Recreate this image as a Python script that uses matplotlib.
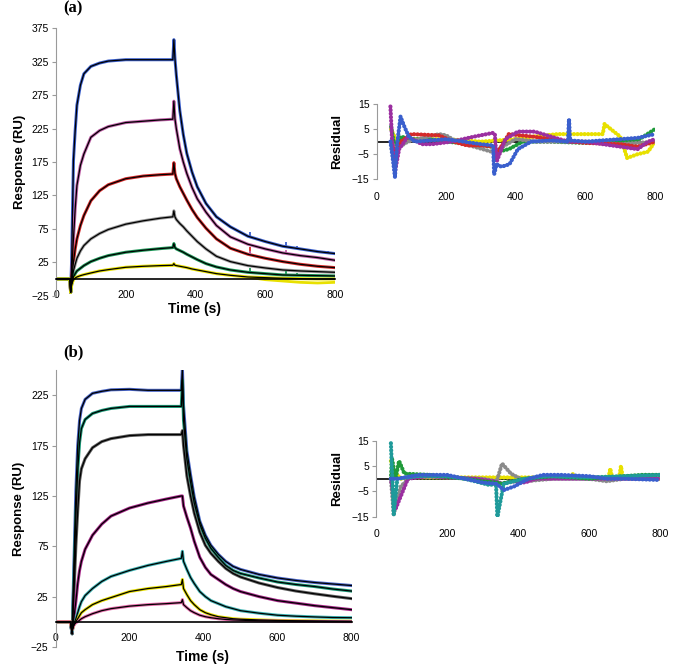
"""SPR sensorgrams with global fits (black) and fit residuals, panels (a) and (b)."""

import matplotlib
import matplotlib.pyplot as plt

matplotlib.use("Agg")

plt.rcParams["font.family"] = ["Liberation Sans", "DejaVu Sans"]

# ------------------------------------------------------------------
# Panel (a): sensorgrams (RU)
# ------------------------------------------------------------------
a_time = [0, 40, 42, 45, 50, 55, 60, 70, 80, 100, 125, 150, 200, 250, 300,
          335, 338, 341, 345, 355, 365, 375, 390, 405, 430, 460, 500, 550,
          600, 650, 700, 750, 800]
a_blue = [0, 0, -20, 30, 177, 222, 260, 290, 307, 318, 323, 326, 328, 328,
          328, 328, 358, 330, 305, 252, 216, 188, 160, 138, 113, 93, 78, 64,
          56, 49, 45, 41, 38]
a_magenta = [0, 0, -20, 10, 60, 105, 140, 170, 187, 212, 222, 228, 234, 236,
             238, 239, 266, 240, 225, 195, 175, 158, 137, 120, 100, 80, 63,
             52, 45, 39, 35, 32, 28]
a_red = [0, 0, -20, 0, 25, 45, 60, 80, 95, 117, 132, 141, 150, 154, 156,
         157, 174, 158, 150, 138, 128, 118, 104, 92, 76, 60, 46, 37, 31, 26,
         22, 19, 17]
a_gray = [0, 0, -20, -5, 12, 22, 31, 42, 50, 60, 68, 74, 82, 87, 91, 93, 102,
          93, 89, 83, 78, 72, 64, 56, 45, 34, 26, 20, 16.5, 13.5, 12, 11, 10]
a_green = [0, 0, -20, -8, 3, 8, 12, 16, 20, 26, 31, 35, 40, 43, 45.5, 47, 53,
           47, 45, 42.5, 40, 37, 33, 29, 23, 18, 13.5, 10, 8, 6, 5.5, 5, 4.5]
a_yellow = [0, 0, -20, -8, -1, 1.5, 3, 5, 6.5, 9, 12, 14, 17.5, 19, 20, 20.5,
            23, 20.5, 20, 19, 18, 17, 15, 13.5, 11, 8, 5.5, 3, 2, 1, 0.5, 0, 0]
a_series = [a_blue, a_magenta, a_red, a_gray, a_green, a_yellow]
a_colors = ["#3a5fcd", "#c060a8", "#d42a2a", "#9a9a9a", "#1f9a5a", "#e8e000"]

# measured yellow trace drifts below its fit at the end of dissociation
a_yellow_tail_t = [560, 600, 650, 700, 750, 800]
a_yellow_tail = [2, -1, -3, -5, -6, -5]
# injection artefacts in the measured traces: time, bottom, top, colour index
a_blip_t = [555, 660, 690, 555, 660, 555, 555, 660, 690, 780]
a_blip_lo = [62, 48, 45, 36, 37, 10, 37, 6, 5, 38]
a_blip_hi = [71, 55, 50, 48, 43, 17, 42, 12, 9, 42]
a_blip_c = [0, 0, 0, 2, 1, 4, 1, 4, 4, 0]

# Panel (a) residuals (RU) at anchor times
ar_yellow_t = [42, 48, 60, 100, 200, 300, 400, 450, 520, 650, 655, 700, 720,
               750, 780, 800]
ar_yellow_r = [5, 3, 0, 1, 1, 0, 1, 2, 3, 3, 7, 2, -6.5, -5, -4, 0]
ar_green_t = [42, 48, 55, 70, 100, 150, 200, 280, 330, 350, 380, 420, 500,
              600, 700, 750, 800]
ar_green_r = [6, 1, -3, 2, 1, 1, 0, -1, -2, -4, -3, 0, 0, -0.5, 0, 0.5, 5]
ar_gray_t = [42, 55, 90, 120, 180, 200, 230, 280, 330, 350, 400, 460, 600,
             700, 800]
ar_gray_r = [0, -3, 0, 1, 3, 2.5, 0, -2, -4, -3, 1, 0, 0, -1, 0]
ar_red_t = [42, 53, 70, 100, 180, 220, 260, 300, 338, 345, 380, 450, 500,
            560, 600, 700, 750, 800]
ar_red_r = [0, -5, 0, 3, 2.5, 0, -1.5, -1.5, -2, -5, 3, 2, 1, 0, -0.5, -1,
            -2, 0]
ar_purple_t = [40, 45, 53, 65, 90, 130, 160, 216, 280, 335, 340, 345, 370,
               406, 454, 550, 600, 700, 750, 780, 800]
ar_purple_r = [14, 0, -12, -3, 2, -1, -1, 0, 2, 3.5, 3, -8, 1, 4, 4, 0, 0,
               -2, -3, 0, 1]
ar_blue_t = [40, 46, 53, 60, 69, 80, 93, 110, 200, 250, 300, 335, 338, 345,
             359, 382, 406, 444, 500, 550, 553, 556, 600, 650, 700, 750, 800]
ar_blue_r = [0, -6, -14, 0, 10, 6, 2, 0, 1, 0, -1, -1.5, -13, -9, -10, -9,
             -3, 0, 0.5, 0, 9, 0.5, 0, 0.5, 1, 1.5, 3]
ar_series = [
    (ar_yellow_t, ar_yellow_r, "#e8e000"),
    (ar_green_t, ar_green_r, "#1f9a3a"),
    (ar_gray_t, ar_gray_r, "#8a8a8a"),
    (ar_red_t, ar_red_r, "#d42a2a"),
    (ar_purple_t, ar_purple_r, "#9b2fa0"),
    (ar_blue_t, ar_blue_r, "#3a5fcd"),
]

# ------------------------------------------------------------------
# Panel (b): sensorgrams (RU)
# ------------------------------------------------------------------
b_time = [0, 40, 45, 50, 55, 60, 65, 70, 80, 100, 125, 150, 200, 250, 300,
          340, 343, 346, 355, 365, 375, 390, 405, 420, 440, 460, 480, 500,
          550, 600, 650, 700, 750, 800]
b_blue = [0, 0, -12, 60, 130, 175, 200, 212, 221, 227, 229, 230.5, 231, 230,
          230, 230, 252, 215, 170, 146, 124, 100, 86, 76, 67, 60, 55, 52,
          47, 43.5, 41, 39, 37.5, 36]
b_green = [0, 0, -12, 45, 105, 150, 178, 192, 201, 207, 210, 212, 214, 214,
           214, 214, 240, 200, 162, 139, 118, 97, 83, 73, 64, 56, 51, 48,
           43.5, 39.5, 37, 35, 32.5, 30.5]
b_dark = [0, 0, -12, 30, 75, 110, 140, 152, 162, 173, 179, 182, 185, 186,
          186, 186, 190, 175, 145, 125, 108, 89, 76, 68, 60, 53, 48, 44.5,
          38.5, 34, 30.5, 27.8, 25.3, 23]
b_magenta = [0, 0, -10, 5, 20, 38, 51, 60, 72, 86, 97, 105, 113, 118, 122,
             125, 125, 115, 104, 93, 80, 64, 54, 47, 42, 37, 33, 30, 25, 21,
             18.5, 16, 14, 12]
b_teal = [0, 0, -10, -2, 3, 9, 15, 20, 26, 33, 40, 45, 51, 56, 60, 63, 70,
          60, 52, 44, 38, 30, 25, 21, 18, 15, 13, 11, 8.5, 6.5, 5.5, 4.8,
          4.2, 4]
b_yellow = [0, 0, -8, -3, 0, 3, 6, 9, 12, 17, 21, 24, 30, 33, 35, 37, 42, 33,
            27, 21, 17, 12, 9, 7, 5, 4, 3, 2.5, 1.8, 1.3, 1, 0.8, 0.6, 0.5]
b_pink = [0, 0, -8, -3, -1, 0, 1.5, 3, 5, 8, 11, 13, 15.5, 17, 18, 19, 22,
          17, 14, 11, 9, 6.5, 5, 4, 3, 2.3, 1.8, 1.5, 1, 0.7, 0.5, 0.3, 0.2,
          0.1]
b_series = [b_blue, b_green, b_dark, b_magenta, b_teal, b_yellow, b_pink]
b_colors = ["#4a66c8", "#1a9a78", "#606060", "#a8288a", "#3fb4b4", "#e8e000",
            "#e468a8"]

# Panel (b) residuals (RU)
br_yellow_t = [42, 50, 70, 100, 300, 550, 555, 560, 655, 660, 665, 685, 690,
               695, 800]
br_yellow_r = [7, 3, 0, 0.5, 0.5, 0.5, 2, 0.5, 0.5, 4, 0.5, 0.5, 5, 0.5, 0]
br_gray_t = [42, 50, 70, 100, 200, 300, 340, 355, 380, 420, 500, 600, 650,
             700, 800]
br_gray_r = [0, -14, -3, 1, 0.5, 0, -1, 6, 2, -1, 0, 0, -1, 0, 0]
br_purple_t = [42, 55, 90, 150, 200, 280, 330, 360, 380, 420, 450, 800]
br_purple_r = [0, -12, 0, 1, 0.5, 0, -1, -2, -1, -1.5, 0, 0]
br_green_t = [42, 45, 55, 65, 80, 150, 250, 300, 340, 350, 420, 500, 600,
              750, 800]
br_green_r = [0, 8, 0, 7, 2, 1.5, 0, -1, -1.5, -2, 0, 1, 0, 1.5, 1.5]
br_teal_t = [42, 46, 50, 60, 120, 200, 250, 320, 338, 342, 360, 420, 480,
             600, 700, 800]
br_teal_r = [14, 0, -14, 0, 1, 1, 0, -2.5, -2, -15, -2, 0, 1, 0.5, 1, 1.5]
br_blue_t = [42, 60, 120, 200, 250, 300, 340, 360, 390, 430, 470, 520, 600,
             650, 700, 800]
br_blue_r = [0, 0, 1.5, 1.5, 0, -1.5, -2, -4.5, -3, 0, 1.5, 1.5, 1, 0, 0,
             -0.5]
br_series = [
    (br_yellow_t, br_yellow_r, "#e8e000"),
    (br_gray_t, br_gray_r, "#8a8a8a"),
    (br_purple_t, br_purple_r, "#9b2fa0"),
    (br_green_t, br_green_r, "#1f9a3a"),
    (br_teal_t, br_teal_r, "#1f9a9a"),
    (br_blue_t, br_blue_r, "#3a5fcd"),
]

W, H = 678, 664
AXIS_GRAY = "#9a9a9a"


def fig_rect(left, top, right, bottom):
    """Axes rectangle from pixel edges measured on the reference."""
    return [left / W, 1 - bottom / H, (right - left) / W, (bottom - top) / H]


def style_sensorgram(ax, yticks, fs):
    ax.set_xlim(0, 800)
    ax.set_xticks([0, 200, 400, 600, 800])
    ax.set_yticks(yticks)
    for side in ("top", "right"):
        ax.spines[side].set_visible(False)
    ax.spines["left"].set_color(AXIS_GRAY)
    ax.spines["bottom"].set_position(("data", 0))
    ax.spines["bottom"].set_linewidth(1.2)
    ax.tick_params(axis="y", length=3, width=0.8, color=AXIS_GRAY,
                   labelsize=fs, pad=2)
    ax.tick_params(axis="x", length=0, labelsize=fs, pad=8)


def style_residual(ax, fs):
    ax.set_xlim(0, 800)
    ax.set_ylim(-15, 15)
    ax.set_xticks([0, 200, 400, 600, 800])
    ax.set_yticks([15, 5, -5, -15])
    for side in ("top", "right", "bottom"):
        ax.spines[side].set_visible(False)
    ax.spines["left"].set_color(AXIS_GRAY)
    ax.axhline(0, color="black", lw=1.2, zorder=1)
    ax.tick_params(axis="y", length=3, width=0.8, color=AXIS_GRAY,
                   labelsize=fs, pad=2)
    ax.tick_params(axis="x", length=0, labelsize=fs, pad=9)
    ax.set_ylabel("Residual", fontsize=9.5, fontweight="bold", labelpad=6)


def draw_residuals(ax, series):
    for t, r, c in series:
        ax.plot(t, r, color=c, lw=3.0, ls=(0, (0.05, 0.8)),
                dash_capstyle="round", zorder=2)


fig = plt.figure(figsize=(W / 100, H / 100), dpi=100)

# ---------------- (a) sensorgram ----------------
ax_a = fig.add_axes(fig_rect(56, 28.3, 335, 295.7))
for y, c in zip(a_series, a_colors):
    ax_a.plot(a_time, y, color=c, lw=2.2, zorder=2)
ax_a.plot(a_yellow_tail_t, a_yellow_tail, color=a_colors[5], lw=2.0, zorder=2)
ax_a.vlines(a_blip_t, a_blip_lo, a_blip_hi,
            colors=[a_colors[i] for i in a_blip_c], lw=1.3, zorder=2)
for y in a_series:
    ax_a.plot(a_time, y, color="black", lw=0.9, zorder=3)
ax_a.set_ylim(-25, 375)
style_sensorgram(ax_a, [-25, 25, 75, 125, 175, 225, 275, 325, 375], 7.5)
ax_a.set_ylabel("Response (RU)", fontsize=9.5, fontweight="bold", labelpad=4)
fig.text(195 / W, 1 - 309 / H, "Time (s)", fontsize=10, fontweight="bold",
         ha="center", va="center")
fig.text(73 / W, 1 - 8 / H, "(a)", fontsize=12, fontweight="bold",
         family="Liberation Serif", ha="center", va="center")

# ---------------- (a) residuals ----------------
ax_ar = fig.add_axes(fig_rect(376.5, 104, 655, 179.3))
draw_residuals(ax_ar, ar_series)
style_residual(ax_ar, 7.5)

# ---------------- (b) sensorgram ----------------
ax_b = fig.add_axes(fig_rect(55.5, 370.2, 351.5, 646.9))
for y, c in zip(b_series, b_colors):
    ax_b.plot(b_time, y, color=c, lw=2.2, zorder=2)
for y in b_series:
    ax_b.plot(b_time, y, color="black", lw=0.9, zorder=3)
ax_b.set_ylim(-25, 250)
style_sensorgram(ax_b, [-25, 25, 75, 125, 175, 225], 7.5)
ax_b.set_ylabel("Response (RU)", fontsize=9.5, fontweight="bold", labelpad=4)
fig.text(203 / W, 1 - 657 / H, "Time (s)", fontsize=10, fontweight="bold",
         ha="center", va="center")
fig.text(73 / W, 1 - 352 / H, "(b)", fontsize=12, fontweight="bold",
         family="Liberation Serif", ha="center", va="center")

# ---------------- (b) residuals ----------------
ax_br = fig.add_axes(fig_rect(376, 440.7, 660, 516.7))
draw_residuals(ax_br, br_series)
style_residual(ax_br, 7.5)

fig.savefig("out.png", dpi=100)
